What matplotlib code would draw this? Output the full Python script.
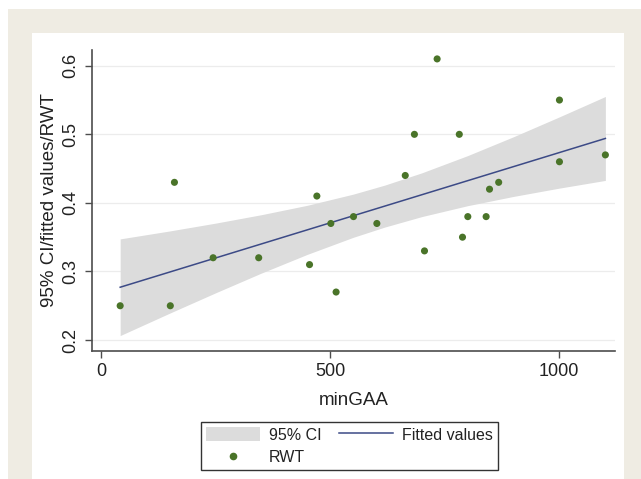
import matplotlib
matplotlib.use("Agg")
import matplotlib.pyplot as plt
from matplotlib.patches import Rectangle, Patch
from matplotlib.lines import Line2D

plt.rcParams['font.family'] = ['Liberation Sans', 'DejaVu Sans']

# Scatter data (RWT vs minGAA)
min_gaa = [41.5, 151, 160, 244.5, 344, 455, 471, 501.5, 513, 551, 602, 664,
           684, 706, 733.6, 782, 789, 800.6, 840.6, 848, 868, 1000.7, 1000.7, 1101]
rwt = [0.25, 0.25, 0.43, 0.32, 0.32, 0.31, 0.41, 0.37, 0.27, 0.38, 0.37, 0.44,
       0.50, 0.33, 0.61, 0.50, 0.35, 0.38, 0.38, 0.42, 0.43, 0.55, 0.46, 0.47]

# Fitted values and 95% CI band read at several x positions
ci_x = [41.5, 150, 250, 350, 450, 550, 619, 700, 800, 900, 1000, 1101]
ci_lo = [0.2065, 0.2393, 0.2689, 0.2977, 0.3249, 0.3497, 0.3647, 0.3800,
         0.3959, 0.4094, 0.4215, 0.4328]
ci_hi = [0.3475, 0.3591, 0.3705, 0.3828, 0.3965, 0.4127, 0.4259, 0.4438,
         0.4689, 0.4964, 0.5253, 0.5552]
fit_x = [41.5, 1101]
fit_y = [0.277, 0.494]

x_ticks = [0, 500, 1000]
y_ticks = [0.2, 0.3, 0.4, 0.5, 0.6]
y_ticklabels = ["0.2", "0.3", "0.4", "0.5", "0.6"]

W, H = 641, 479
fig = plt.figure(figsize=(W / 100, H / 100), dpi=100, facecolor='white')

# Outer cream frame and inner white panel
fig.patches.append(Rectangle((8 / W, 0), (W - 8) / W, 1 - 9 / H,
                             transform=fig.transFigure, facecolor='#efece3',
                             edgecolor='none', zorder=-10))
fig.patches.append(Rectangle((32 / W, 0), (624 - 32) / W, 1 - 33 / H,
                             transform=fig.transFigure, facecolor='white',
                             edgecolor='none', zorder=-9))

left, right, bottom, top = 92 / W, 615 / W, 1 - 351 / H, 1 - 50 / H
ax = fig.add_axes([left, bottom, right - left, top - bottom])
ax.set_facecolor('none')

axis_col = '#4d4d4d'
ax.fill_between(ci_x, ci_lo, ci_hi, color='#dcdcdc', linewidth=0, zorder=2)
ax.plot(fit_x, fit_y, color='#3c4a86', linewidth=1.1, zorder=3)
ax.scatter(min_gaa, rwt, s=26, color='#4a7429', edgecolors='none', zorder=4)

ax.set_xlim(-20, 1122)
ax.set_ylim(0.184, 0.623)
ax.set_xticks(x_ticks)
ax.set_yticks(y_ticks)
ax.set_yticklabels(y_ticklabels, rotation=90, va='center')
ax.yaxis.grid(True, color='#ececec', linewidth=0.9, zorder=0)
ax.set_axisbelow(True)

for s in ['top', 'right']:
    ax.spines[s].set_visible(False)
for s in ['left', 'bottom']:
    ax.spines[s].set_color(axis_col)
    ax.spines[s].set_linewidth(1.2)
ax.tick_params(axis='both', direction='out', length=5, width=1.0,
               color=axis_col, labelsize=13, labelcolor='#222222', pad=4)

ax.set_xlabel('minGAA', fontsize=13.5, color='#222222', labelpad=8)
ax.set_ylabel('95% CI/fitted values/RWT', fontsize=13.5, color='#222222',
              labelpad=3)

handles = [Patch(facecolor='#dcdcdc', edgecolor='none'),
           Line2D([], [], color='white', marker='o', markersize=5.5,
                  markerfacecolor='#4a7429', markeredgecolor='none', linestyle='none'),
           Line2D([], [], color='#3c4a86', linewidth=1.1)]
labels = ['95% CI', 'RWT', 'Fitted values']
leg = fig.legend(handles, labels, ncol=2, loc='center',
                 bbox_to_anchor=((201 + 494) / 2 / W + 2 / W, 1 - 446 / H),
                 fontsize=11.5, frameon=True, fancybox=False,
                 edgecolor='black', handlelength=3.4, handleheight=1.0,
                 handletextpad=0.55, columnspacing=1.1, labelspacing=0.4,
                 borderpad=0.3)
leg.get_frame().set_linewidth(1.0)
for t in leg.get_texts():
    t.set_color('#222222')

fig.savefig('out.png', dpi=100, facecolor='white')
